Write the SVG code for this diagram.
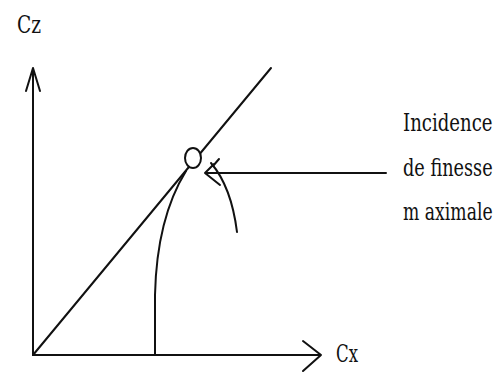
<svg xmlns="http://www.w3.org/2000/svg" width="499" height="377" viewBox="0 0 499 377">
<style>
.ln{fill:none;stroke:#111;stroke-width:2;stroke-linecap:round;stroke-linejoin:round}
text{font-family:'DejaVu Serif','Liberation Serif',serif;font-size:24px;fill:#111}
</style>
<rect width="499" height="377" fill="#fff"/>
<g id="axes">
<path class="ln" d="M33,355 L33,68 M26,91 L33,68 L40,91"/>
<path class="ln" d="M33,355 L321,355 M303,341 L321,355 L303,371"/>
</g>
<g id="connectors">
<path class="ln" d="M33,355 L271,68"/>
<path class="ln" d="M155,355 L155,295 C156,250 165,205 186,171"/>
<path class="ln" d="M211,163 C223,177 233,200 237,232"/>
<path class="ln" d="M386,173 L205,173 M214,164 L205,173 L220,185 M213,166 L219,159"/>
</g>
<g id="point">
<ellipse cx="193" cy="158" rx="8" ry="10" fill="#fff" stroke="#111" stroke-width="2"/>
</g>
<g id="labels">
<text font-family="DejaVu Serif, Liberation Serif, serif" x="17" y="33" textLength="24" lengthAdjust="spacingAndGlyphs">Cz</text>
<text font-family="DejaVu Serif, Liberation Serif, serif" x="336" y="362" textLength="22" lengthAdjust="spacingAndGlyphs">Cx</text>
<text font-family="DejaVu Serif, Liberation Serif, serif" transform="translate(403,131) scale(0.7,1)" x="0" y="0" textLength="128" lengthAdjust="spacingAndGlyphs">Incidence</text>
<text font-family="DejaVu Serif, Liberation Serif, serif" transform="translate(403,176) scale(0.7,1)" x="0" y="0" textLength="128" lengthAdjust="spacingAndGlyphs">de finesse</text>
<text font-family="DejaVu Serif, Liberation Serif, serif" transform="translate(403,220) scale(0.7,1)" x="0" y="0" textLength="128" lengthAdjust="spacingAndGlyphs">m aximale</text>
</g>
</svg>
